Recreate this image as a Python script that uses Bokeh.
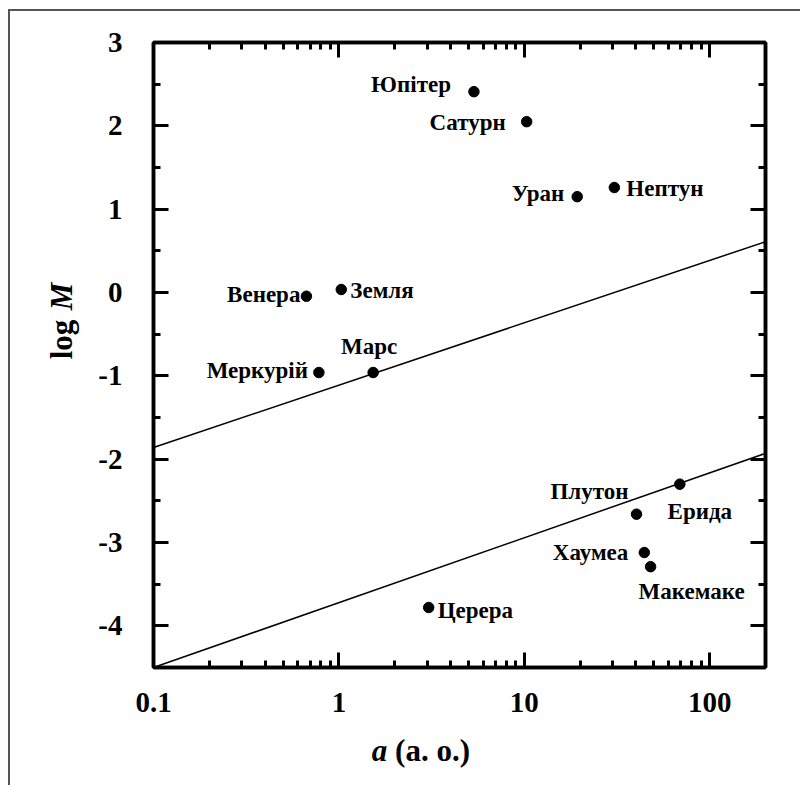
import numpy as np
from bokeh.plotting import figure
from bokeh.models import (ColumnDataSource, FixedTicker, LogAxis, LinearAxis, Label,
                          CustomJSTickFormatter, Range1d)
from bokeh.core.properties import value
from bokeh.embed import file_html
from bokeh.resources import INLINE

# ---------------- data ----------------
names = ["Юпітер", "Сатурн", "Уран", "Нептун", "Венера", "Земля", "Меркурій",
         "Марс", "Плутон", "Ерида", "Хаумеа", "Макемаке", "Церера"]
a_au = [5.35, 10.3, 19.3, 30.6, 0.668, 1.03, 0.78, 1.53, 40.3, 69.0, 44.4, 48.0, 3.05]
log_m = [2.41, 2.05, 1.15, 1.26, -0.045, 0.036, -0.96, -0.96, -2.66, -2.30, -3.12, -3.29, -3.78]

line_a = [0.1, 200]
upper_log_m = [-1.86, 0.61]
lower_log_m = [-4.5, -1.93]

x_major = [0.1, 1, 10, 100]
x_labels = ["0.1", "1", "10", "100"]
y_major = [-4, -3, -2, -1, 0, 1, 2, 3]
y_labels = ["-4", "-3", "-2", "-1", "0", "1", "2", "3"]

# ---------------- label placement (styles, not data) ----------------
label_dx = [-23, -21, -13, 12, -6, 9, -11, -4, -8, 20, -16, 41, 9]
label_dy = [-7, 1, -3, 1, -2, 1, -2, -26, -23, 27, 0, 25, 3]
label_align = ["right", "right", "right", "left", "right", "left", "right",
               "center", "right", "center", "right", "center", "left"]

FONT = "Liberation Serif"

x_minor = [m * 10.0 ** d for d in (-1, 0, 1, 2) for m in range(2, 10) if m * 10.0 ** d <= 200]
y_minor = [v + 0.5 for v in y_major] + [-4.5]

p = figure(width=792, height=776, x_axis_type="log",
           x_range=Range1d(0.1, 200), y_range=Range1d(-4.5, 3),
           output_backend="svg", toolbar_location=None,
           min_border_left=143, min_border_right=37, min_border_top=31, min_border_bottom=120)
p.styles = {"margin-left": "8px", "margin-top": "9px",
            "border-left": "2px solid #555555", "border-top": "2px solid #555555"}
p.background_fill_color = "white"
p.border_fill_color = "white"
p.xgrid.visible = False
p.ygrid.visible = False
p.outline_line_color = "black"
p.outline_line_width = 3.5

x_fmt = CustomJSTickFormatter(args=dict(tv=x_major, tl=x_labels), code="""
const i = tv.findIndex(t => Math.abs(t - tick) <= 1e-9 * Math.max(1, Math.abs(t)));
return i >= 0 ? tl[i] : '';
""")
y_fmt = CustomJSTickFormatter(args=dict(tv=y_major, tl=y_labels), code="""
const i = tv.findIndex(t => Math.abs(t - tick) < 1e-9);
return i >= 0 ? tl[i] : '';
""")
blank = CustomJSTickFormatter(code="return '';")

bottom = p.xaxis[0]
left = p.yaxis[0]
bottom.ticker = FixedTicker(ticks=x_major, minor_ticks=x_minor)
bottom.formatter = x_fmt
left.ticker = FixedTicker(ticks=y_major, minor_ticks=y_minor)
left.formatter = y_fmt

top = LogAxis(ticker=FixedTicker(ticks=x_major, minor_ticks=x_minor), formatter=blank)
right = LinearAxis(ticker=FixedTicker(ticks=y_major, minor_ticks=y_minor), formatter=blank)
p.add_layout(top, "above")
p.add_layout(right, "right")

for ax in [bottom, left, top, right]:
    ax.axis_line_width = 3.5
    ax.axis_line_color = "black"
    ax.major_tick_line_width = 3
    ax.minor_tick_line_width = 3
    ax.major_tick_line_color = "black"
    ax.minor_tick_line_color = "black"
    ax.major_tick_in = 15
    ax.major_tick_out = 0
    ax.minor_tick_in = 7
    ax.minor_tick_out = 0
    ax.major_label_text_font = FONT
    ax.major_label_text_font_style = "bold"
    ax.major_label_text_font_size = "29px"
    ax.major_label_text_color = "black"

bottom.major_label_standoff = 25
left.major_label_standoff = 31
top.major_label_standoff = 0
right.major_label_standoff = 0

# fit lines
p.line(line_a, upper_log_m, line_color="black", line_width=1.5)
p.line(line_a, lower_log_m, line_color="black", line_width=1.5)

# points
src = ColumnDataSource(dict(x=a_au, y=log_m, name=names, dx=label_dx, dy=label_dy, align=label_align))
p.scatter(x="x", y="y", size=10.5, color="black", source=src)
p.text(x="x", y="y", text="name", x_offset="dx", y_offset="dy", text_align="align",
       text_baseline="middle", text_font=value(FONT), text_font_style="bold",
       text_font_size="23px", text_color="black", source=src)

# axis titles (canvas pixel positions, placed in side panels so they are not clipped)
title_kw = dict(text_font=FONT, text_font_size="31px", text_color="black",
                x_units="canvas", y_units="canvas", text_baseline="alphabetic", text_align="center")
p.add_layout(Label(x=49, y=326, text="log", angle=np.pi / 2, text_font_style="bold", **title_kw), "left")
p.add_layout(Label(x=49, y=283, text="M", angle=np.pi / 2, text_font_style="bold italic", **title_kw), "left")
p.add_layout(Label(x=367, y=737, text="a", text_font_style="bold italic", **title_kw), "below")
p.add_layout(Label(x=420, y=737, text="(а. о.)", text_font_style="bold", **title_kw), "below")

open("out.html", "w").write(file_html(p, INLINE))
